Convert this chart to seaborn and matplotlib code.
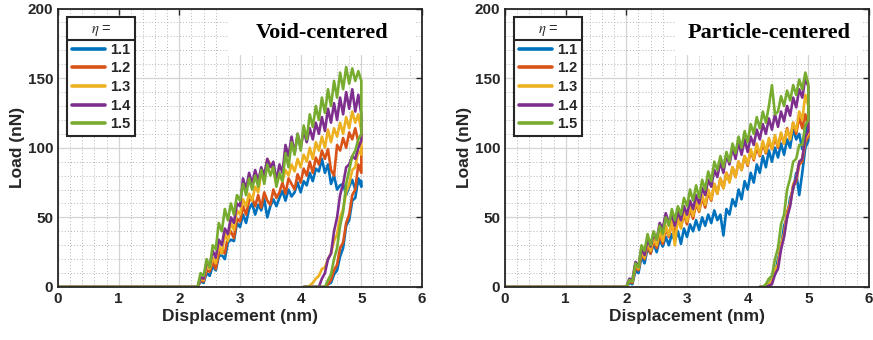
import matplotlib
matplotlib.use("Agg")
import matplotlib.pyplot as plt
from matplotlib.lines import Line2D
from matplotlib.patches import Rectangle
from matplotlib.ticker import MultipleLocator
import numpy as np
import pandas as pd
import seaborn as sns

# ---------------- data ----------------
etas = ["1.1", "1.2", "1.3", "1.4", "1.5"]
colors = ["#0072BD", "#D95319", "#EDB120", "#7E2F8E", "#77AC30"]

# Void-centered: loading branch
void_load_x = [2.30, 2.35, 2.40, 2.45, 2.50, 2.55, 2.60, 2.65, 2.70, 2.75,
               2.80, 2.85, 2.90, 2.95, 3.00, 3.05, 3.10, 3.15, 3.20, 3.25,
               3.30, 3.35, 3.40, 3.45, 3.50, 3.55, 3.60, 3.65, 3.70, 3.75,
               3.80, 3.85, 3.90, 3.95, 4.00, 4.05, 4.10, 4.15, 4.20, 4.25,
               4.30, 4.35, 4.40, 4.45, 4.50, 4.55, 4.60, 4.65, 4.70, 4.75,
               4.80, 4.85, 4.90, 4.95, 5.00]
void_load_11 = [0, 4, 3, 10, 8, 15, 12, 22, 23, 20,
                32, 34, 33, 46, 43, 52, 46, 56, 60, 52,
                59, 55, 63, 50, 58, 63, 58, 64, 69, 62,
                70, 65, 68, 75, 68, 76, 73, 82, 76, 85,
                83, 92, 82, 88, 74, 80, 70, 73, 74, 66,
                72, 77, 70, 77, 76]
void_load_12 = [0, 5, 4, 12, 11, 18, 13, 24, 27, 24,
                36, 40, 35, 49, 47, 58, 52, 62, 64, 58,
                66, 57, 68, 62, 59, 70, 64, 68, 75, 67,
                78, 74, 70, 81, 75, 85, 80, 90, 82, 93,
                88, 98, 92, 99, 84, 80, 102, 98, 107, 100,
                111, 106, 114, 104, 100]
void_load_13 = [0, 6, 5, 15, 13, 21, 17, 30, 24, 38,
                33, 46, 41, 55, 52, 63, 58, 67, 62, 72,
                68, 82, 79, 92, 88, 84, 74, 80, 76, 84,
                80, 88, 83, 92, 86, 95, 90, 100, 92, 104,
                98, 108, 100, 113, 104, 114, 108, 118, 110, 122,
                114, 126, 118, 124, 112]
void_load_14 = [0, 7, 6, 18, 15, 26, 21, 34, 30, 42,
                38, 50, 46, 60, 58, 78, 70, 82, 74, 84,
                76, 86, 80, 92, 86, 90, 76, 88, 82, 102,
                94, 108, 96, 110, 100, 112, 104, 114, 106, 118,
                110, 122, 112, 128, 118, 132, 120, 136, 124, 140,
                128, 142, 126, 138, 124]
void_load_15 = [0, 10, 8, 20, 14, 30, 27, 46, 40, 56,
                48, 60, 52, 66, 62, 74, 66, 78, 70, 80,
                72, 84, 74, 88, 80, 86, 72, 82, 76, 96,
                86, 104, 95, 110, 98, 116, 106, 124, 115, 130,
                120, 136, 125, 142, 130, 148, 136, 154, 142, 158,
                146, 157, 148, 155, 148]

# Void-centered: unloading branch
void_unload_x = [5.00, 4.95, 4.90, 4.85, 4.80, 4.75, 4.70, 4.65, 4.60, 4.55,
                 4.50, 4.45, 4.40, 4.35, 4.30, 4.25, 4.20, 4.15, 4.10, 4.05]
void_unload_11 = [72, 78, 64, 62, 48, 44, 28, 22, 12, 9, 3, 2, 0, 0, 0, 0, 0, 0, 0, 0]
void_unload_12 = [82, 88, 70, 66, 52, 46, 32, 28, 16, 12, 5, 2, 0, 0, 0, 0, 0, 0, 0, 0]
void_unload_13 = [95, 98, 86, 84, 74, 68, 56, 50, 38, 33, 24, 20, 14, 13, 8, 6, 3, 1, 0, 0]
void_unload_14 = [105, 100, 92, 94, 88, 86, 74, 66, 50, 40, 24, 20, 10, 6, 0, 0, 0, 0, 0, 0]
void_unload_15 = [110, 106, 98, 94, 84, 74, 54, 44, 28, 20, 9, 5, 0, 0, 0, 0, 0, 0, 0, 0]

# Particle-centered: loading branch
part_load_x = [2.00, 2.05, 2.10, 2.15, 2.20, 2.25, 2.30, 2.35, 2.40, 2.45,
               2.50, 2.55, 2.60, 2.65, 2.70, 2.75, 2.80, 2.85, 2.90, 2.95,
               3.00, 3.05, 3.10, 3.15, 3.20, 3.25, 3.30, 3.35, 3.40, 3.45,
               3.50, 3.55, 3.60, 3.65, 3.70, 3.75, 3.80, 3.85, 3.90, 3.95,
               4.00, 4.05, 4.10, 4.15, 4.20, 4.25, 4.30, 4.35, 4.40, 4.45,
               4.50, 4.55, 4.60, 4.65, 4.70, 4.75, 4.80, 4.85, 4.90, 4.95, 5.00]
part_load_11 = [0, 3, 2, 12, 10, 22, 17, 28, 24, 31,
                25, 34, 29, 36, 30, 38, 33, 40, 31, 42,
                36, 45, 40, 48, 41, 50, 44, 52, 46, 55,
                48, 52, 37, 56, 52, 63, 58, 70, 63, 76,
                70, 82, 75, 88, 82, 94, 86, 98, 90, 100,
                93, 103, 95, 106, 100, 114, 106, 110, 99, 116,
                108]
part_load_12 = [0, 4, 3, 14, 12, 24, 20, 30, 24, 33,
                28, 38, 31, 42, 36, 46, 38, 49, 43, 52,
                45, 56, 49, 60, 54, 64, 57, 68, 62, 74,
                67, 78, 71, 82, 76, 86, 79, 90, 84, 94,
                87, 98, 91, 100, 94, 103, 96, 105, 99, 107,
                100, 110, 103, 114, 106, 118, 110, 122, 114, 124,
                114]
part_load_13 = [0, 5, 4, 16, 13, 26, 21, 32, 26, 35,
                30, 40, 33, 44, 37, 48, 30, 50, 42, 54,
                47, 58, 51, 62, 55, 66, 59, 70, 63, 74,
                67, 78, 71, 82, 75, 86, 79, 90, 84, 94,
                88, 99, 92, 103, 95, 105, 97, 107, 99, 109,
                101, 111, 103, 113, 106, 118, 112, 126, 120, 138,
                130]
part_load_14 = [0, 6, 5, 18, 15, 28, 23, 34, 29, 38,
                34, 46, 42, 53, 46, 52, 44, 54, 48, 58,
                52, 62, 56, 66, 60, 71, 66, 77, 72, 84,
                79, 90, 82, 95, 88, 100, 92, 104, 95, 106,
                97, 108, 102, 113, 106, 117, 110, 121, 113, 124,
                115, 126, 119, 130, 123, 136, 129, 142, 136, 150,
                144]
part_load_15 = [0, 5, 4, 17, 14, 30, 26, 38, 30, 40,
                34, 44, 38, 50, 44, 56, 48, 58, 52, 64,
                58, 70, 62, 73, 64, 77, 70, 83, 76, 90,
                84, 94, 86, 97, 90, 103, 96, 108, 100, 112,
                104, 117, 110, 122, 114, 126, 118, 130, 145, 124,
                126, 137, 130, 141, 134, 145, 138, 149, 142, 154,
                146]

# Particle-centered: unloading branch
part_unload_x = [5.00, 4.95, 4.90, 4.85, 4.80, 4.75, 4.70, 4.65, 4.60,
                 4.55, 4.50, 4.45, 4.40, 4.35, 4.30, 4.25, 4.20]
part_unload_11 = [105, 100, 82, 66, 82, 70, 64, 50, 44, 28, 20, 9, 6, 2, 0, 0, 0]
part_unload_12 = [108, 104, 90, 88, 76, 72, 60, 54, 38, 30, 16, 12, 4, 2, 0, 0, 0]
part_unload_13 = [110, 106, 92, 90, 78, 74, 60, 52, 38, 30, 16, 12, 5, 2, 0, 0, 0]
part_unload_14 = [112, 108, 92, 90, 78, 72, 58, 50, 36, 27, 13, 9, 2, 1, 0, 0, 0]
part_unload_15 = [120, 116, 102, 102, 92, 90, 78, 70, 52, 45, 28, 20, 8, 6, 2, 0, 0]

panels = [
    ("Void-centered", void_load_x,
     [void_load_11, void_load_12, void_load_13, void_load_14, void_load_15],
     void_unload_x,
     [void_unload_11, void_unload_12, void_unload_13, void_unload_14, void_unload_15]),
    ("Particle-centered", part_load_x,
     [part_load_11, part_load_12, part_load_13, part_load_14, part_load_15],
     part_unload_x,
     [part_unload_11, part_unload_12, part_unload_13, part_unload_14, part_unload_15]),
]


def build_frame(load_x, loads, unload_x, unloads):
    rows = []
    for eta, ly, uy in zip(etas, loads, unloads):
        xs = [0.0] + list(load_x) + list(unload_x)
        ys = [0.0] + list(ly) + list(uy)
        for x, y in zip(xs, ys):
            rows.append({"disp": x, "load": y, "eta": eta})
    return pd.DataFrame(rows)


# ---------------- plot ----------------
sns.set_style("white")
plt.rcParams["font.family"] = ["Liberation Sans", "DejaVu Sans"]
plt.rcParams["mathtext.fontset"] = "stix"

fig = plt.figure(figsize=(8.73, 3.40), dpi=100)
W, H = 873, 340
axes_px = [(58, 8.5, 364, 278.5), (505, 8.5, 364, 278.5)]
tick_color = "#262626"

legends = []
for (title, lx, loads, ux, unloads), (l, t, w, h) in zip(panels, axes_px):
    ax = fig.add_axes([l / W, (H - t - h) / H, w / W, h / H])
    df = build_frame(lx, loads, ux, unloads)
    sns.lineplot(data=df, x="disp", y="load", hue="eta", hue_order=etas,
                 palette=colors, sort=False, estimator=None, linewidth=1.9,
                 ax=ax, legend=False)
    ax.set_xlim(0, 6)
    ax.set_ylim(0, 200)
    ax.xaxis.set_major_locator(MultipleLocator(1))
    ax.yaxis.set_major_locator(MultipleLocator(50))
    ax.xaxis.set_minor_locator(MultipleLocator(0.2))
    ax.yaxis.set_minor_locator(MultipleLocator(10))
    ax.grid(which="major", color="#d4d4d4", linestyle="-", linewidth=0.9)
    ax.grid(which="minor", color="#b4b4b4", linestyle=(0, (1, 2.2)), linewidth=0.7)
    ax.set_axisbelow(True)
    ax.tick_params(which="major", direction="in", length=4, width=1.0,
                   top=True, right=True, colors=tick_color, labelsize=11)
    ax.tick_params(which="minor", length=0)
    for lab in ax.get_xticklabels() + ax.get_yticklabels():
        lab.set_fontweight("bold")
        lab.set_color(tick_color)
    for sp in ax.spines.values():
        sp.set_visible(True)
        sp.set_color("#262626")
        sp.set_linewidth(1.3)
    ax.set_xlabel("Displacement (nm)", fontsize=12.5, fontweight="bold",
                  color=tick_color, labelpad=2)
    ax.set_ylabel("Load (nN)", fontsize=12.5, fontweight="bold",
                  color=tick_color, labelpad=2)

    # white annotation box behind the panel label
    ax.add_patch(Rectangle((0.468, 0.833), 0.513, 0.162, transform=ax.transAxes,
                           facecolor="white", edgecolor="none", zorder=4))
    ax.text(0.725, 0.912, title, transform=ax.transAxes, ha="center", va="center",
            fontsize=16, fontweight="bold", family=["Liberation Serif", "DejaVu Serif"],
            color="black", zorder=5)

    handles = [Line2D([0], [0], color=c, lw=2.6) for c in colors]
    leg = ax.legend(handles, etas, title=r"$\eta$ =", loc="upper left",
                    bbox_to_anchor=(0.024, 0.97), frameon=True, fancybox=False,
                    framealpha=1, edgecolor="#262626", fontsize=10.5,
                    title_fontsize=10.5, handlelength=2.3, handletextpad=0.3,
                    labelspacing=0.32, borderpad=0.35, borderaxespad=0.0)
    leg.get_frame().set_linewidth(1.5)
    for txt in leg.get_texts():
        txt.set_fontweight("bold")
        txt.set_color(tick_color)
    leg.set_zorder(6)
    legends.append((ax, leg))

fig.canvas.draw()
renderer = fig.canvas.get_renderer()
for ax, leg in legends:
    lb = leg.get_window_extent(renderer)
    tb = leg.get_title().get_window_extent(renderer)
    ysep = tb.y0 - 2
    fig.add_artist(Line2D([lb.x0 / W, lb.x1 / W], [ysep / H, ysep / H],
                          color="#262626", lw=1.5, transform=fig.transFigure,
                          zorder=10))

fig.savefig("out.png", dpi=100)
